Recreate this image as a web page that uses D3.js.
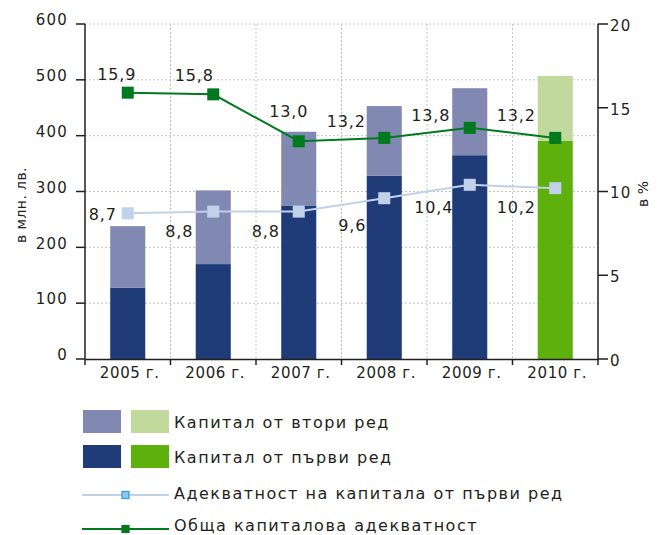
<!DOCTYPE html>
<html lang="bg">
<head>
<meta charset="utf-8">
<script src="https://cdn.jsdelivr.net/npm/d3@7"></script>
<style>
  body { margin: 0; background: #fff; }
  svg text { font-family: "DejaVu Sans", sans-serif; fill: #231f20; }
</style>
</head>
<body>
<div id="chart"></div>
<script>
const years = ["2005 г.", "2006 г.", "2007 г.", "2008 г.", "2009 г.", "2010 г."];
const tier1 = [128, 170, 275, 328, 365, 391];
const tier2 = [110, 132, 132, 125, 120, 116];
const totalAdequacy = [15.9, 15.8, 13.0, 13.2, 13.8, 13.2];
const tier1Adequacy = [8.7, 8.8, 8.8, 9.6, 10.4, 10.2];
const leftTicks = [0, 100, 200, 300, 400, 500, 600];
const rightTicks = [0, 5, 10, 15, 20];
const legendLabels = [
  "Капитал от втори ред",
  "Капитал от първи ред",
  "Адекватност на капитала от първи ред",
  "Обща капиталова адекватност"
];

// label nudges (manual placement in the original)
const totalLabelOffset = [[-11, -13], [-19, -13], [-10, -24], [-38, -11], [-39, -7], [-39, -17]];
const tier1LabelOffset = [[-25, 7], [-34, 25], [-33, 25], [-32, 33], [-36, 28], [-39, 25]];

const fmt = v => v.toFixed(1).replace(".", ",");

const width = 657, height = 535;
const plotLeft = 85, plotRight = 598, plotTop = 24, plotBottom = 359;
const ink = "#231f20";

const svg = d3.select("#chart").append("svg")
  .attr("width", width)
  .attr("height", height);

const x = d3.scaleBand()
  .domain(years)
  .range([plotLeft, plotRight])
  .paddingInner(0.59)
  .paddingOuter(0.295);
const step = x.step();
const bw = x.bandwidth();
const cx = d => x(d) + bw / 2;
const edge = d => cx(d) - step / 2;

const y = d3.scaleLinear().domain([0, 600]).range([plotBottom, plotTop]);
const y2 = d3.scaleLinear().domain([0, 20]).range([plotBottom, plotTop]);

// grid
svg.append("g")
  .selectAll("line")
  .data(leftTicks.slice(1))
  .enter()
  .append("line")
  .attr("x1", plotLeft).attr("x2", plotRight)
  .attr("y1", d => y(d)).attr("y2", d => y(d))
  .attr("stroke", "#c4c4c4")
  .attr("stroke-dasharray", "2,2");

svg.append("g")
  .selectAll("line")
  .data(years.slice(1))
  .enter()
  .append("line")
  .attr("x1", edge).attr("x2", edge)
  .attr("y1", plotTop).attr("y2", plotBottom)
  .attr("stroke", "#c4c4c4")
  .attr("stroke-dasharray", "2,2");

// bars
const isLast = i => i === years.length - 1;
const bars = svg.append("g");
bars.selectAll(".t1")
  .data(years)
  .enter()
  .append("rect")
  .attr("x", d => x(d))
  .attr("width", bw)
  .attr("y", (d, i) => y(tier1[i]))
  .attr("height", (d, i) => y(0) - y(tier1[i]))
  .attr("fill", (d, i) => isLast(i) ? "#5eb00c" : "#1f3c78");
bars.selectAll(".t2")
  .data(years)
  .enter()
  .append("rect")
  .attr("x", d => x(d))
  .attr("width", bw)
  .attr("y", (d, i) => y(tier1[i] + tier2[i]))
  .attr("height", (d, i) => y(tier1[i]) - y(tier1[i] + tier2[i]))
  .attr("fill", (d, i) => isLast(i) ? "#c1d99d" : "#8189b3");

// axes
const leftAxis = svg.append("g")
  .attr("transform", `translate(${plotLeft},0)`)
  .call(d3.axisLeft(y).tickValues(leftTicks).tickSize(0).tickPadding(17));
const rightAxis = svg.append("g")
  .attr("transform", `translate(${plotRight},0)`)
  .call(d3.axisRight(y2).tickValues(rightTicks).tickSize(0).tickPadding(12));
[leftAxis, rightAxis].forEach(a => {
  a.select(".domain").remove();
  a.selectAll("text")
    .style("font-size", "15px")
    .style("letter-spacing", "1.2px")
    .attr("fill", ink);
});
leftAxis.selectAll("text").attr("dy", "0.05em");
rightAxis.selectAll("text").attr("dy", "0.42em");

// tick marks
svg.append("g")
  .selectAll("line")
  .data(leftTicks)
  .enter()
  .append("line")
  .attr("x1", plotLeft - 9).attr("x2", plotLeft)
  .attr("y1", d => y(d)).attr("y2", d => y(d))
  .attr("stroke", ink).attr("stroke-width", 1.5);
svg.append("g")
  .selectAll("line")
  .data(rightTicks)
  .enter()
  .append("line")
  .attr("x1", plotRight).attr("x2", plotRight + 10)
  .attr("y1", d => y2(d)).attr("y2", d => y2(d))
  .attr("stroke", ink).attr("stroke-width", 1.5);

[plotLeft, plotRight].forEach(px => {
  svg.append("line")
    .attr("x1", px).attr("x2", px)
    .attr("y1", plotTop).attr("y2", plotBottom + 6)
    .attr("stroke", ink).attr("stroke-width", 1.5);
});

const xAxis = svg.append("g")
  .attr("transform", `translate(0,${plotBottom})`)
  .call(d3.axisBottom(x).tickSize(0).tickPadding(8));
xAxis.select(".domain").attr("stroke", ink).attr("stroke-width", 1.5);
xAxis.selectAll("text")
  .style("font-size", "15px")
  .style("letter-spacing", "0.6px")
  .attr("dx", "2");
svg.append("g")
  .selectAll("line")
  .data(years.slice(1))
  .enter()
  .append("line")
  .attr("x1", edge).attr("x2", edge)
  .attr("y1", plotBottom).attr("y2", plotBottom + 6)
  .attr("stroke", ink).attr("stroke-width", 1.5);

// axis titles
svg.append("text")
  .attr("transform", "translate(26,205) rotate(-90)")
  .attr("text-anchor", "middle")
  .style("font-size", "14px")
  .style("letter-spacing", "0.4px")
  .text("в млн. лв.");
svg.append("text")
  .attr("transform", "translate(648,194) rotate(-90)")
  .attr("text-anchor", "middle")
  .style("font-size", "14px")
  .text("в %");

// lines
const line = d3.line()
  .x((d, i) => cx(years[i]))
  .y(d => y2(d));

svg.append("path")
  .datum(tier1Adequacy)
  .attr("d", line)
  .attr("fill", "none")
  .attr("stroke", "#c2d1ea")
  .attr("stroke-width", 2);
svg.append("path")
  .datum(totalAdequacy)
  .attr("d", line)
  .attr("fill", "none")
  .attr("stroke", "#00791f")
  .attr("stroke-width", 2);

const ms = 12;
svg.append("g")
  .selectAll("rect")
  .data(tier1Adequacy)
  .enter()
  .append("rect")
  .attr("x", (d, i) => cx(years[i]) - ms / 2)
  .attr("y", d => y2(d) - ms / 2)
  .attr("width", ms).attr("height", ms)
  .attr("fill", "#c2d1ea");
svg.append("g")
  .selectAll("rect")
  .data(totalAdequacy)
  .enter()
  .append("rect")
  .attr("x", (d, i) => cx(years[i]) - ms / 2)
  .attr("y", d => y2(d) - ms / 2)
  .attr("width", ms).attr("height", ms)
  .attr("fill", "#00791f");

// value labels
const addLabels = (values, offsets) => {
  svg.append("g")
    .selectAll("text")
    .data(values)
    .enter()
    .append("text")
    .attr("x", (d, i) => cx(years[i]) + offsets[i][0])
    .attr("y", (d, i) => y2(d) + offsets[i][1])
    .attr("text-anchor", "middle")
    .style("font-size", "16px")
    .style("letter-spacing", "0.8px")
    .text(fmt);
};
addLabels(totalAdequacy, totalLabelOffset);
addLabels(tier1Adequacy, tier1LabelOffset);

// legend
const legend = svg.append("g");
const rowY = [410, 445, 495, 529];
const swatches = [["#8189b3", "#c1d99d"], ["#1f3c78", "#5eb00c"]];
swatches.forEach((pair, r) => {
  pair.forEach((c, k) => {
    legend.append("rect")
      .attr("x", 83 + k * 48)
      .attr("y", rowY[r])
      .attr("width", 38)
      .attr("height", 23)
      .attr("fill", c);
  });
});
const lineKeys = [
  { color: "#c2d1ea", marker: "#8fc6ef", border: "#2a9fe0" },
  { color: "#00791f", marker: "#00791f", border: "#00791f" }
];
lineKeys.forEach((k, j) => {
  const ly = rowY[2 + j];
  legend.append("line")
    .attr("x1", 82).attr("x2", 169)
    .attr("y1", ly).attr("y2", ly)
    .attr("stroke", k.color)
    .attr("stroke-width", 2);
  legend.append("rect")
    .attr("x", 122).attr("y", ly - 3.5)
    .attr("width", 7).attr("height", 7)
    .attr("fill", k.marker)
    .attr("stroke", k.border)
    .attr("stroke-width", 1.2);
});
const textY = [428, 463, 499, 531];
legend.selectAll(".lt")
  .data(legendLabels)
  .enter()
  .append("text")
  .attr("x", 174)
  .attr("y", (d, i) => textY[i])
  .style("font-size", "16px")
  .style("letter-spacing", "1.5px")
  .text(d => d);
</script>
</body>
</html>
